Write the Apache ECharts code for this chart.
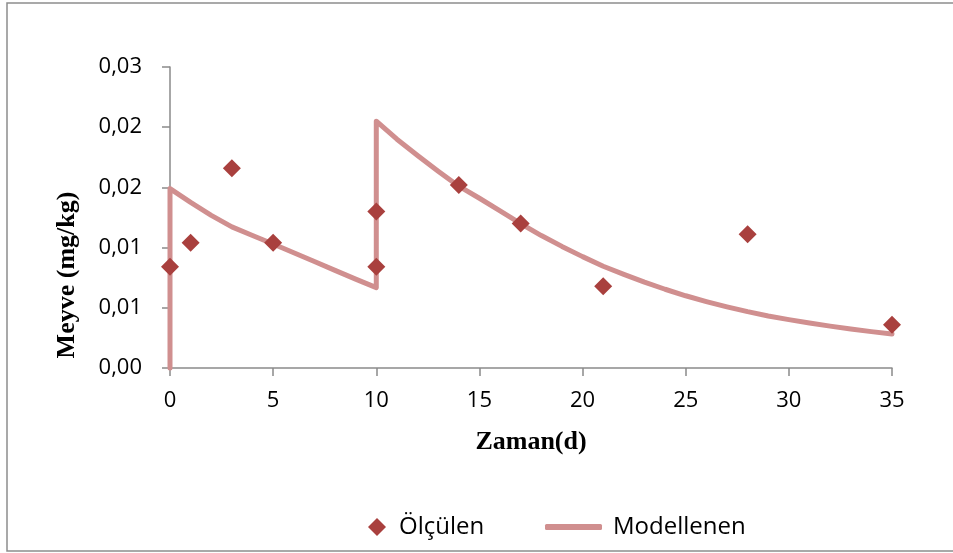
<!DOCTYPE html>
<html>
<head>
<meta charset="utf-8">
<script src="https://cdn.jsdelivr.net/npm/echarts@6/dist/echarts.min.js"></script>
<style>
html,body{margin:0;padding:0;background:#fff;}
#chart{width:953px;height:553px;}
</style>
</head>
<body>
<div id="chart"></div>
<script>
const measuredDays = [0, 1, 3, 5, 10, 10, 14, 17, 21, 28, 35];
const measuredValues = [0.0084, 0.0104, 0.0166, 0.0104, 0.0084, 0.0130, 0.0152, 0.0120, 0.0068, 0.0111, 0.0036];

const modelDays = [0, 0, 1, 2, 3, 4, 5, 6, 7, 8, 9, 10,
  10, 11, 12, 13, 14, 15, 16, 17, 18, 19, 20, 21, 22, 23, 24, 25, 26, 27, 28, 29, 30, 31, 32, 33, 34, 35];
const modelValues = [0, 0.0149, 0.01375, 0.01268, 0.01172, 0.01100, 0.01030, 0.00957, 0.00884, 0.00811, 0.00738, 0.00668,
  0.0205, 0.0190, 0.01765, 0.01635, 0.0151, 0.0141, 0.01305, 0.0120, 0.0110, 0.0101, 0.00925, 0.00845,
  0.00778, 0.00713, 0.00654, 0.00600, 0.00552, 0.00508, 0.00468, 0.00432, 0.00402, 0.00374, 0.00348, 0.00324, 0.00302, 0.00282];

const xTicks = [0, 5, 10, 15, 20, 25, 30, 35];
const yTickLabels = ['0,00', '0,01', '0,01', '0,02', '0,02', '0,03'];

const seriesNames = ['Ölçülen', 'Modellenen'];
const xTitle = 'Zaman(d)';
const yTitle = 'Meyve (mg/kg)';

const chart = echarts.init(document.getElementById('chart'), null, {renderer: 'canvas'});
const axisColor = '#8a8a8a';
const lineColor = '#d08f8f';
const sans = '"Open Sans", sans-serif';
const serif = '"Liberation Serif", "Times New Roman", serif';

chart.setOption({
  animation: false,
  backgroundColor: '#ffffff',
  grid: {left: 170, right: 61, top: 67, bottom: 185, containLabel: false},
  xAxis: {
    type: 'value',
    min: xTicks[0],
    max: xTicks[xTicks.length - 1],
    interval: 5,
    axisLine: {show: true, lineStyle: {color: axisColor, width: 1.5}},
    axisTick: {show: true, length: 8, lineStyle: {color: axisColor, width: 1.5}},
    splitLine: {show: false},
    axisLabel: {color: '#000', fontFamily: sans, fontSize: 22, margin: 22}
  },
  yAxis: {
    type: 'value',
    min: 0,
    max: 0.025,
    interval: 0.005,
    axisLine: {show: true, lineStyle: {color: axisColor, width: 1.5}},
    axisTick: {show: true, length: 8, lineStyle: {color: axisColor, width: 1.5}},
    splitLine: {show: false},
    axisLabel: {
      color: '#000', fontFamily: sans, fontSize: 22, margin: 28,
      formatter: function (v) { return yTickLabels[Math.round(v / 0.005)]; }
    }
  },
  legend: [
    {
      data: [seriesNames[0]],
      left: 363, top: 510,
      itemWidth: 18, itemHeight: 18,
      textStyle: {fontFamily: sans, fontSize: 24, color: '#000', padding: [0, 0, 0, 8]}
    },
    {
      data: [{name: seriesNames[1], icon: 'roundRect'}],
      left: 540, top: 510,
      itemWidth: 57, itemHeight: 6,
      itemStyle: {color: lineColor},
      textStyle: {fontFamily: sans, fontSize: 24, color: '#000', padding: [0, 0, 0, 6]}
    }
  ],
  graphic: [
    {
      type: 'rect', silent: true,
      shape: {x: 7, y: 3, width: 960, height: 548},
      style: {fill: 'none', stroke: '#8d8d8d', lineWidth: 1.5}
    },
    {
      type: 'text', silent: true, x: 531, y: 442,
      style: {text: xTitle, font: 'bold 26px ' + serif, fill: '#000', textAlign: 'center', textVerticalAlign: 'middle'}
    },
    {
      type: 'text', silent: true, x: 67, y: 275, rotation: Math.PI / 2,
      style: {text: yTitle, font: 'bold 26px ' + serif, fill: '#000', textAlign: 'center', textVerticalAlign: 'middle'}
    }
  ],
  series: [
    {
      name: seriesNames[1],
      type: 'line',
      data: modelDays.map((d, i) => [d, modelValues[i]]),
      symbol: 'none',
      smooth: false,
      clip: false,
      lineStyle: {color: lineColor, width: 5, cap: 'round', join: 'round'},
      itemStyle: {color: lineColor},
      z: 2
    },
    {
      name: seriesNames[0],
      type: 'scatter',
      data: measuredDays.map((d, i) => [d, measuredValues[i]]),
      symbol: 'diamond',
      symbolSize: 18,
      itemStyle: {color: '#a9403e', opacity: 1},
      z: 3
    }
  ]
});
</script>
</body>
</html>
